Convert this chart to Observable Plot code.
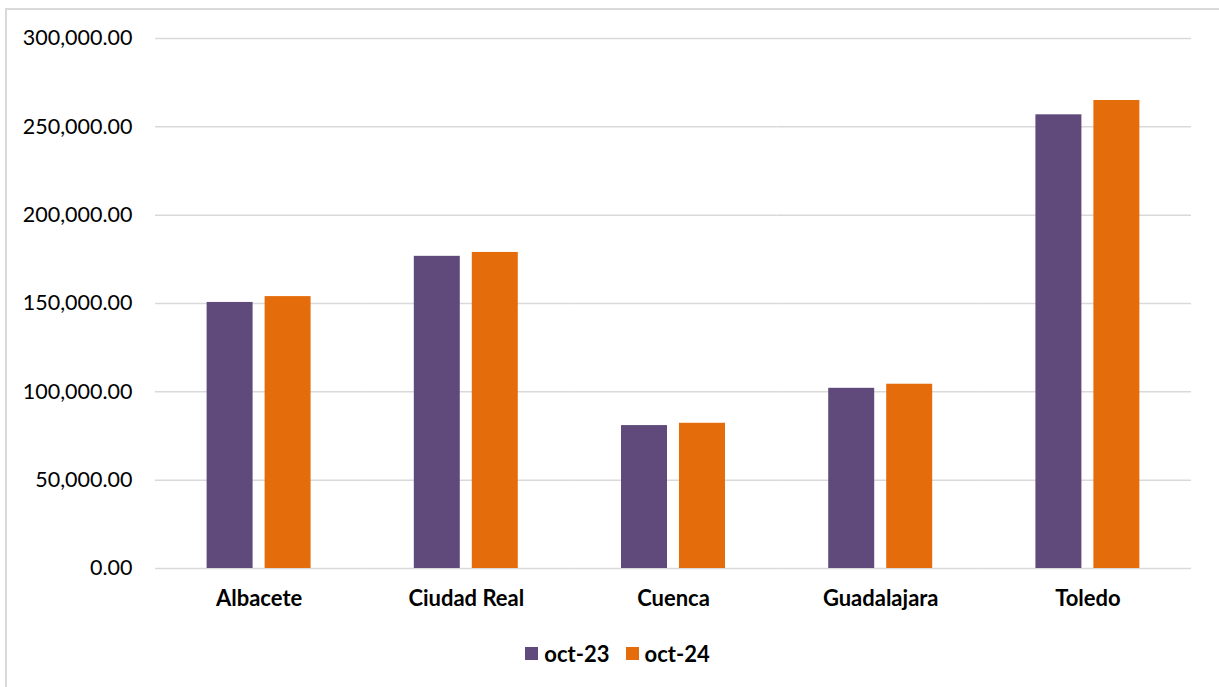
<!DOCTYPE html>
<html><head><meta charset="utf-8">
<script src="https://cdn.jsdelivr.net/npm/d3@7"></script>
<script src="https://cdn.jsdelivr.net/npm/@observablehq/plot@0.6"></script>
<style>
body{margin:0;background:#fff;font-family:Lato,"Open Sans",sans-serif;}
#frame{position:absolute;left:5px;top:8px;width:1300px;height:800px;border:2px solid #d9d9d9;box-sizing:border-box;}
#chart{position:absolute;left:0;top:0;}
#legend{position:absolute;left:0;top:640px;width:1235px;display:flex;justify-content:center;align-items:center;font-weight:bold;font-size:22px;color:#000;}
.item{display:flex;align-items:center;margin:0 8px;}
.sw{width:13px;height:13px;margin-right:6px;}
</style></head>
<body>
<div id="frame"></div>
<div id="chart"></div>
<div id="legend"></div>
<script>
const cities = ["Albacete","Ciudad Real","Cuenca","Guadalajara","Toledo"];
const periods = ["oct-23","oct-24"];
const oct23 = [150600, 176700, 80900, 102000, 256800];
const oct24 = [153900, 178900, 82200, 104300, 264900];
const colors = ["#604a7b","#e46c0a"];
const yTicks = [0,50000,100000,150000,200000,250000,300000];

const data = [];
cities.forEach((c,i)=>{
  data.push({city:c, period:periods[0], value:oct23[i]});
  data.push({city:c, period:periods[1], value:oct24[i]});
});

const chart = Plot.plot({
  width:1219, height:625,
  marginLeft:155, marginRight:28, marginTop:38, marginBottom:57,
  style:{fontFamily:"Lato, 'Open Sans', sans-serif", fontSize:"21px", color:"#000", background:"transparent"},
  fx:{domain:cities, paddingInner:0, paddingOuter:0, round:false, label:null},
  x:{domain:periods, paddingInner:0.207, paddingOuter:0.89, round:false, axis:null},
  y:{domain:[0,300000], ticks:yTicks, label:null},
  color:{domain:periods, range:colors},
  marks:[
    Plot.ruleY(yTicks, {stroke:"#d9d9d9", strokeWidth:1.5}),
    Plot.barY(data, {fx:"city", x:"period", y:"value", fill:"period"}),
    Plot.axisY({ticks:yTicks, tickFormat:d3.format(",.2f"), tickSize:0, tickPadding:23, label:null, fontSize:21.5}),
    Plot.axisFx({anchor:"bottom", tickSize:0, tickPadding:22, label:null, fontSize:22, fontWeight:"bold"})
  ]
});
document.getElementById("chart").appendChild(chart);

const leg = document.getElementById("legend");
periods.forEach((p,i)=>{
  const it = document.createElement("div"); it.className="item";
  const sw = document.createElement("div"); sw.className="sw"; sw.style.background=colors[i];
  const t = document.createElement("span"); t.textContent=p;
  it.appendChild(sw); it.appendChild(t); leg.appendChild(it);
});
</script>
</body></html>
